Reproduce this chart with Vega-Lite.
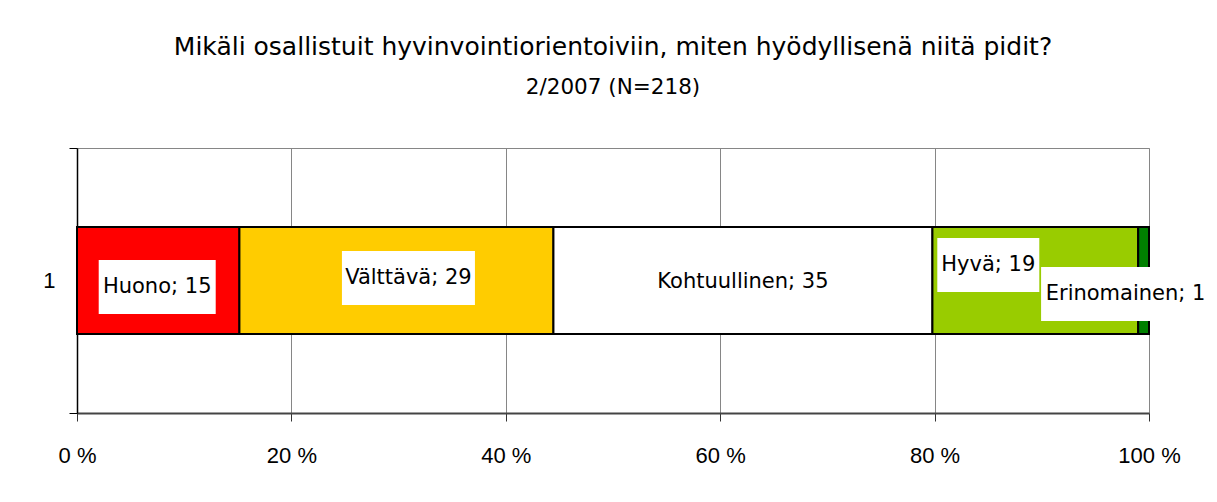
{
  "$schema": "https://vega.github.io/schema/vega-lite/v6.json",
  "autosize": "none",
  "width": 1072,
  "height": 265,
  "padding": {"left": 77, "top": 148, "right": 68, "bottom": 89},
  "background": "white",
  "title": {
    "text": "Mikäli osallistuit hyvinvointiorientoiviin, miten hyödyllisenä niitä pidit?",
    "subtitle": "2/2007 (N=218)",
    "anchor": "middle",
    "font": "DejaVu Sans",
    "fontSize": 25,
    "fontWeight": "normal",
    "color": "black",
    "subtitleFont": "DejaVu Sans",
    "subtitleFontSize": 21.5,
    "subtitleColor": "black",
    "subtitlePadding": 17,
    "offset": 39
  },
  "data": {
    "values": [
      {"y": "1", "cat": "Huono", "k": 1, "n": 15, "label": "Huono; 15"},
      {"y": "1", "cat": "Välttävä", "k": 2, "n": 29, "label": "Välttävä; 29"},
      {"y": "1", "cat": "Kohtuullinen", "k": 3, "n": 35, "label": "Kohtuullinen; 35"},
      {"y": "1", "cat": "Hyvä", "k": 4, "n": 19, "label": "Hyvä; 19"},
      {"y": "1", "cat": "Erinomainen", "k": 5, "n": 1, "label": "Erinomainen; 1"}
    ]
  },
  "transform": [
    {"stack": "n", "groupby": ["y"], "sort": [{"field": "k", "order": "ascending"}], "offset": "normalize", "as": ["x0", "x1"]},
    {"calculate": "(datum.x0 + datum.x1) / 2", "as": "xm"}
  ],
  "encoding": {
    "y": {
      "field": "y", "type": "nominal",
      "scale": {"type": "band", "paddingInner": 0, "paddingOuter": 0},
      "axis": {
        "title": null, "tickBand": "extent", "tickSize": 8, "tickColor": "black",
        "domainColor": "black", "domainWidth": 1.5, "labelPadding": 14,
        "labelFont": "Liberation Sans", "labelFontSize": 22, "labelColor": "black", "labelAngle": 0
      }
    }
  },
  "layer": [
    {
      "mark": {"type": "bar", "height": 107, "stroke": "black", "strokeWidth": 2},
      "encoding": {
        "x": {
          "field": "x0", "type": "quantitative",
          "scale": {"domain": [0, 1], "nice": false},
          "axis": {
            "title": null, "values": [0, 0.2, 0.4, 0.6, 0.8, 1],
            "labelExpr": "round(datum.value * 100) + ' %'",
            "labelFlush": false, "labelAlign": "center",
            "grid": true, "gridColor": "#868686", "gridWidth": 1,
            "tickSize": 8, "tickColor": "#333333", "domainColor": "#444444", "domainWidth": 2,
            "labelPadding": 24, "labelFont": "Liberation Sans", "labelFontSize": 22, "labelColor": "black"
          }
        },
        "x2": {"field": "x1"},
        "color": {
          "field": "cat", "type": "nominal", "legend": null,
          "scale": {
            "domain": ["Huono", "Välttävä", "Kohtuullinen", "Hyvä", "Erinomainen"],
            "range": ["#FF0000", "#FFCC00", "#FFFFFF", "#99CC00", "#008000"]
          }
        }
      }
    },
    {
      "transform": [{"filter": "datum.cat == 'Huono'"}],
      "mark": {"type": "point", "shape": "M-59.5,-20.5L57.5,-20.5L57.5,33.5L-59.5,33.5Z", "size": 4, "filled": true, "fill": "white", "opacity": 1, "strokeWidth": 0},
      "encoding": {"x": {"field": "xm", "type": "quantitative"}}
    },
    {
      "transform": [{"filter": "datum.cat == 'Välttävä'"}],
      "mark": {"type": "point", "shape": "M-54.5,-29.5L78.5,-29.5L78.5,24.5L-54.5,24.5Z", "size": 4, "filled": true, "fill": "white", "opacity": 1, "strokeWidth": 0},
      "encoding": {"x": {"field": "xm", "type": "quantitative"}}
    },
    {
      "transform": [{"filter": "datum.cat == 'Hyvä'"}],
      "mark": {"type": "point", "shape": "M-98,-42.5L4,-42.5L4,11.5L-98,11.5Z", "size": 4, "filled": true, "fill": "white", "opacity": 1, "strokeWidth": 0},
      "encoding": {"x": {"field": "xm", "type": "quantitative"}}
    },
    {
      "transform": [{"filter": "datum.cat == 'Erinomainen'"}],
      "mark": {"type": "point", "shape": "M-102.5,-13.5L66.5,-13.5L66.5,40.5L-102.5,40.5Z", "size": 4, "filled": true, "fill": "white", "opacity": 1, "strokeWidth": 0},
      "encoding": {"x": {"field": "xm", "type": "quantitative"}}
    },
    {
      "transform": [{"filter": "datum.cat == 'Huono'"}],
      "mark": {"type": "text", "dx": -1, "dy": 6.5, "font": "DejaVu Sans", "fontSize": 21, "color": "black", "baseline": "middle", "align": "center"},
      "encoding": {"x": {"field": "xm", "type": "quantitative"}, "text": {"field": "label"}}
    },
    {
      "transform": [{"filter": "datum.cat == 'Välttävä'"}],
      "mark": {"type": "text", "dx": 12, "dy": -2.5, "font": "DejaVu Sans", "fontSize": 21, "color": "black", "baseline": "middle", "align": "center"},
      "encoding": {"x": {"field": "xm", "type": "quantitative"}, "text": {"field": "label"}}
    },
    {
      "transform": [{"filter": "datum.cat == 'Kohtuullinen'"}],
      "mark": {"type": "text", "dx": 0, "dy": 1.5, "font": "DejaVu Sans", "fontSize": 21, "color": "black", "baseline": "middle", "align": "center"},
      "encoding": {"x": {"field": "xm", "type": "quantitative"}, "text": {"field": "label"}}
    },
    {
      "transform": [{"filter": "datum.cat == 'Hyvä'"}],
      "mark": {"type": "text", "dx": -47, "dy": -15.5, "font": "DejaVu Sans", "fontSize": 21, "color": "black", "baseline": "middle", "align": "center"},
      "encoding": {"x": {"field": "xm", "type": "quantitative"}, "text": {"field": "label"}}
    },
    {
      "transform": [{"filter": "datum.cat == 'Erinomainen'"}],
      "mark": {"type": "text", "dx": -18, "dy": 13.5, "font": "DejaVu Sans", "fontSize": 21, "color": "black", "baseline": "middle", "align": "center"},
      "encoding": {"x": {"field": "xm", "type": "quantitative"}, "text": {"field": "label"}}
    }
  ],
  "config": {
    "view": {"stroke": "#868686", "strokeWidth": 1}
  }
}
